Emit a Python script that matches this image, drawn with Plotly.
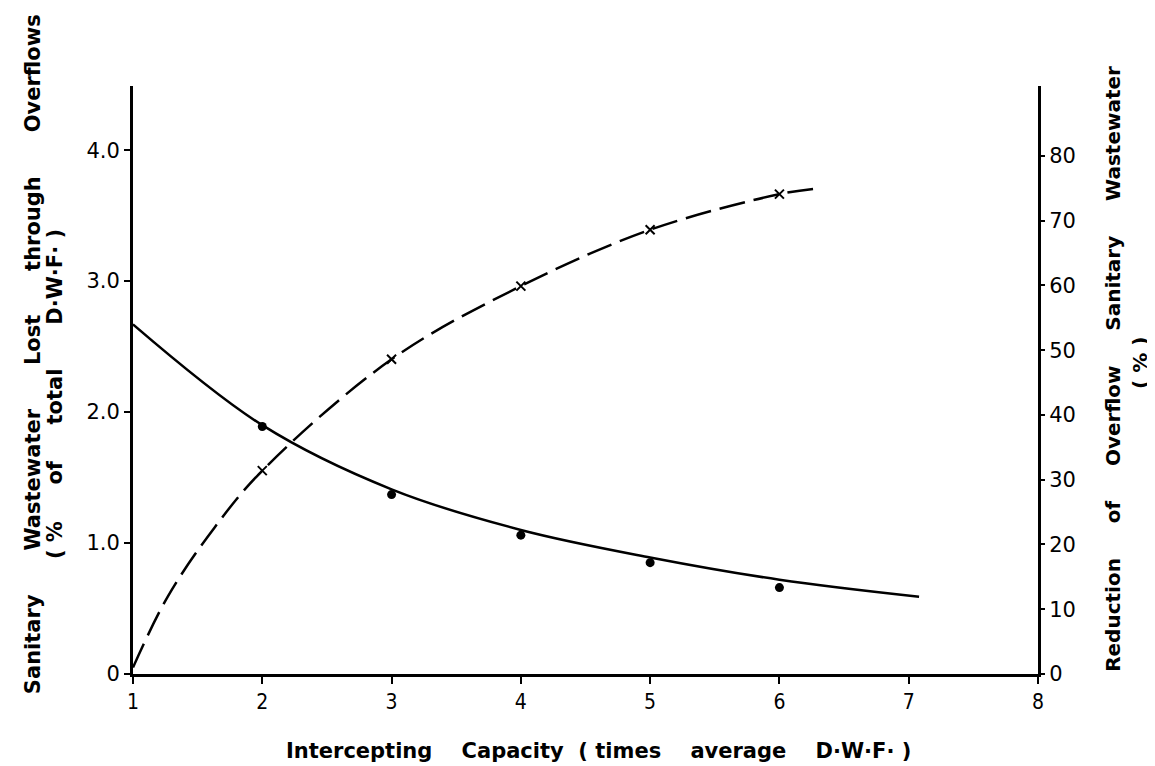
import plotly.graph_objects as go

# ---- data ----
x_ticks = [1, 2, 3, 4, 5, 6, 7, 8]
left_tickvals = [0, 1, 2, 3, 4]
left_ticktext = ["0", "1.0", "2.0", "3.0", "4.0"]
right_tickvals = [0, 10, 20, 30, 40, 50, 60, 70, 80]
right_ticktext = ["0", "10", "20", "30", "40", "50", "60", "70", "80"]

# Sanitary wastewater lost through overflows (% of total DWF) - fitted curve
lost_curve_x = [1, 2, 3, 4, 5, 6, 7.08]
lost_curve_y = [2.67, 1.90, 1.41, 1.10, 0.89, 0.72, 0.59]
# observed points (dots)
lost_pts_x = [2, 3, 4, 5, 6]
lost_pts_y = [1.89, 1.37, 1.06, 0.85, 0.66]

# Reduction of overflow sanitary wastewater (%) - fitted curve
red_curve_x = [1, 1.27, 1.63, 2, 3, 4, 5, 6, 6.26]
red_curve_y = [1.0, 12.0, 22.6, 31.4, 48.6, 59.9, 68.6, 74.1, 74.9]
# observed points (crosses)
red_pts_x = [2, 3, 4, 5, 6]
red_pts_y = [31.4, 48.6, 59.9, 68.6, 74.1]

NB = "\u00a0"
def sp(n):
    return NB * n

title_font = dict(family="DejaVu Sans, Noto Sans, sans-serif", size=21, color="black")
right_font = dict(family="DejaVu Sans, Noto Sans, sans-serif", size=20, color="black")

fig = go.Figure()

fig.add_trace(go.Scatter(
    x=lost_curve_x, y=lost_curve_y, mode="lines",
    line=dict(color="black", width=2.5, shape="spline", smoothing=1.0),
    showlegend=False, hoverinfo="skip"))
fig.add_trace(go.Scatter(
    x=lost_pts_x, y=lost_pts_y, mode="markers",
    marker=dict(symbol="circle", size=9, color="black"),
    showlegend=False))

fig.add_trace(go.Scatter(
    x=red_curve_x, y=red_curve_y, mode="lines", yaxis="y2",
    line=dict(color="black", width=2.5, shape="spline", smoothing=1.0, dash="26px,9px"),
    showlegend=False, hoverinfo="skip"))
fig.add_trace(go.Scatter(
    x=red_pts_x, y=red_pts_y, mode="markers", yaxis="y2",
    marker=dict(symbol="x-thin", size=9, color="black", line=dict(width=2, color="black")),
    showlegend=False))

axis_common = dict(showline=True, linecolor="black", linewidth=3, showgrid=False,
                   zeroline=False, ticks="outside", tickcolor="black", tickwidth=2)

fig.update_layout(
    width=1155, height=766,
    paper_bgcolor="white", plot_bgcolor="white",
    margin=dict(l=125, r=125, t=78, b=100),
    xaxis=dict(range=[1, 8], tickvals=x_ticks, ticktext=[str(v) for v in x_ticks],
               ticklen=7,
               tickfont=dict(family="DejaVu Sans Condensed, Roboto, sans-serif", size=21, color="black"),
               **axis_common),
    yaxis=dict(range=[0, 4.49], tickvals=left_tickvals, ticktext=left_ticktext,
               ticklen=6,
               tickfont=dict(family="DejaVu Sans, sans-serif", size=21, color="black"),
               **axis_common),
    yaxis2=dict(range=[0, 90.8], tickvals=right_tickvals, ticktext=right_ticktext,
                overlaying="y", side="right", ticklen=4,
                tickfont=dict(family="DejaVu Sans, sans-serif", size=21, color="black"),
                **axis_common),
    annotations=[
        dict(text="<b>Sanitary" + sp(6) + "Wastewater" + sp(6) + "Lost" + sp(6) + "through" + sp(6) + "Overflows</b>",
             xref="paper", yref="paper", x=-0.1105, y=0.544, xanchor="center", yanchor="middle",
             textangle=-90, showarrow=False, font=title_font),
        dict(text="<b>(" + sp(1) + "%" + sp(5) + "of" + sp(5) + "total" + sp(6) + "D·W·F·" + sp(1) + ")</b>",
             xref="paper", yref="paper", x=-0.0862, y=0.476, xanchor="center", yanchor="middle",
             textangle=-90, showarrow=False, font=title_font),
        dict(text="<b>Reduction" + sp(5) + "of" + sp(5) + "Overflow" + sp(5) + "Sanitary" + sp(5) + "Wastewater</b>",
             xref="paper", yref="paper", x=1.0829, y=0.519, xanchor="center", yanchor="middle",
             textangle=-90, showarrow=False, font=right_font),
        dict(text="<b>(" + sp(1) + "%" + sp(1) + ")</b>",
             xref="paper", yref="paper", x=1.1127, y=0.529, xanchor="center", yanchor="middle",
             textangle=-90, showarrow=False, font=right_font),
        dict(text="<b>Intercepting" + sp(4) + "Capacity" + sp(2) + "(" + sp(1) + "times" + sp(4) + "average" + sp(4) + "D·W·F·" + sp(1) + ")</b>",
             xref="paper", yref="paper", x=0.514, y=-0.131, xanchor="center", yanchor="middle",
             showarrow=False, font=title_font),
    ],
)

fig.write_html("out.html")
